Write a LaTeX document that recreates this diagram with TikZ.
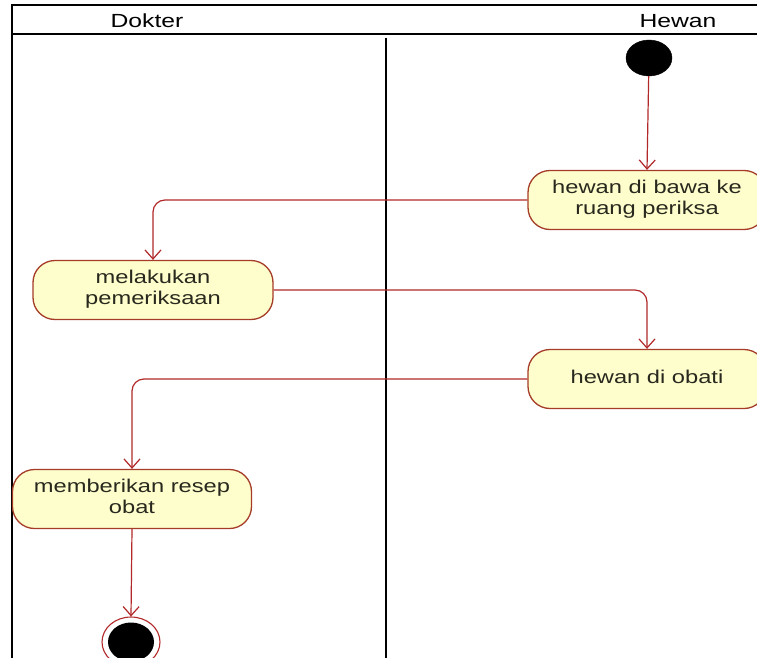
\documentclass[tikz,border=0pt]{standalone}
\usepackage{fontspec}
\setmainfont{Liberation Sans}
\usepackage{graphicx}
\usetikzlibrary{arrows.meta,shapes.geometric}

\definecolor{actfill}{RGB}{254,254,204}
\definecolor{actline}{RGB}{165,60,40}
\definecolor{flowred}{RGB}{178,40,40}
\definecolor{txt}{RGB}{40,40,30}

% horizontally widened text block, several lines centred
\newcommand{\widetxt}[1]{\scalebox{1.28}[1]{\begin{tabular}{@{}c@{}}#1\end{tabular}}}

\tikzset{
  lane/.style={draw=black, line width=1.8pt},
  activity/.style={draw=actline, fill=actfill, line width=1.3pt,
    rectangle, rounded corners=22pt, inner sep=0pt,
    minimum width=238pt, minimum height=59pt, text=txt,
    font=\fontsize{18.5}{20.5}\selectfont},
  flow/.style={draw=flowred, line width=1.2pt, rounded corners=12pt,
    -{Straight Barb[length=9pt,width=16pt,line width=1.2pt]}},
  header/.style={font=\fontsize{19}{22}\selectfont, text=black, inner sep=0pt}
}

\begin{document}
\begin{tikzpicture}[x=1pt,y=-1pt]
  \useasboundingbox (0,0) rectangle (757,658);
  \fill[white] (0,0) rectangle (757,658);

  % swimlane frame
  \draw[lane] (780,5) -- (12,5) -- (12,670);
  \draw[lane] (12,34) -- (780,34);
  \draw[lane] (386,38) -- (386,670);
  \node[header] (laneA) at (147,21) {\scalebox{1.3}[1]{Dokter}};
  \node[header] (laneB) at (678,21) {\scalebox{1.3}[1]{Hewan}};

  % start and end states
  \node[ellipse, fill=black, draw=black, inner sep=0pt,
        minimum width=46pt, minimum height=36pt] (start) at (649,58) {};
  \node[ellipse, draw=flowred, line width=1.1pt, fill=white, inner sep=0pt,
        minimum width=58pt, minimum height=50pt] (stop) at (131,642) {};
  \node[ellipse, fill=black, inner sep=0pt,
        minimum width=46pt, minimum height=39pt] (stopdot) at (131,642) {};

  % activities
  \node[activity] (n1) at (647,200) {\widetxt{hewan di bawa ke\\ruang periksa}};
  \node[activity, minimum width=240pt] (n2) at (153,290) {\widetxt{melakukan\\pemeriksaan}};
  \node[activity] (n3) at (647,379) {\widetxt{hewan di obati}};
  \node[activity, minimum width=239pt] (n4) at (132,499) {\widetxt{memberikan resep\\obat}};

  % control flow
  \draw[flow] (start) -- (n1.north);
  \draw[flow] (n1.west) -| (n2.north);
  \draw[flow] (n2.east) -| (n3.north);
  \draw[flow] (n3.west) -| (n4.north);
  \draw[flow] (n4.south) -- (stop.north);
\end{tikzpicture}
\end{document}
